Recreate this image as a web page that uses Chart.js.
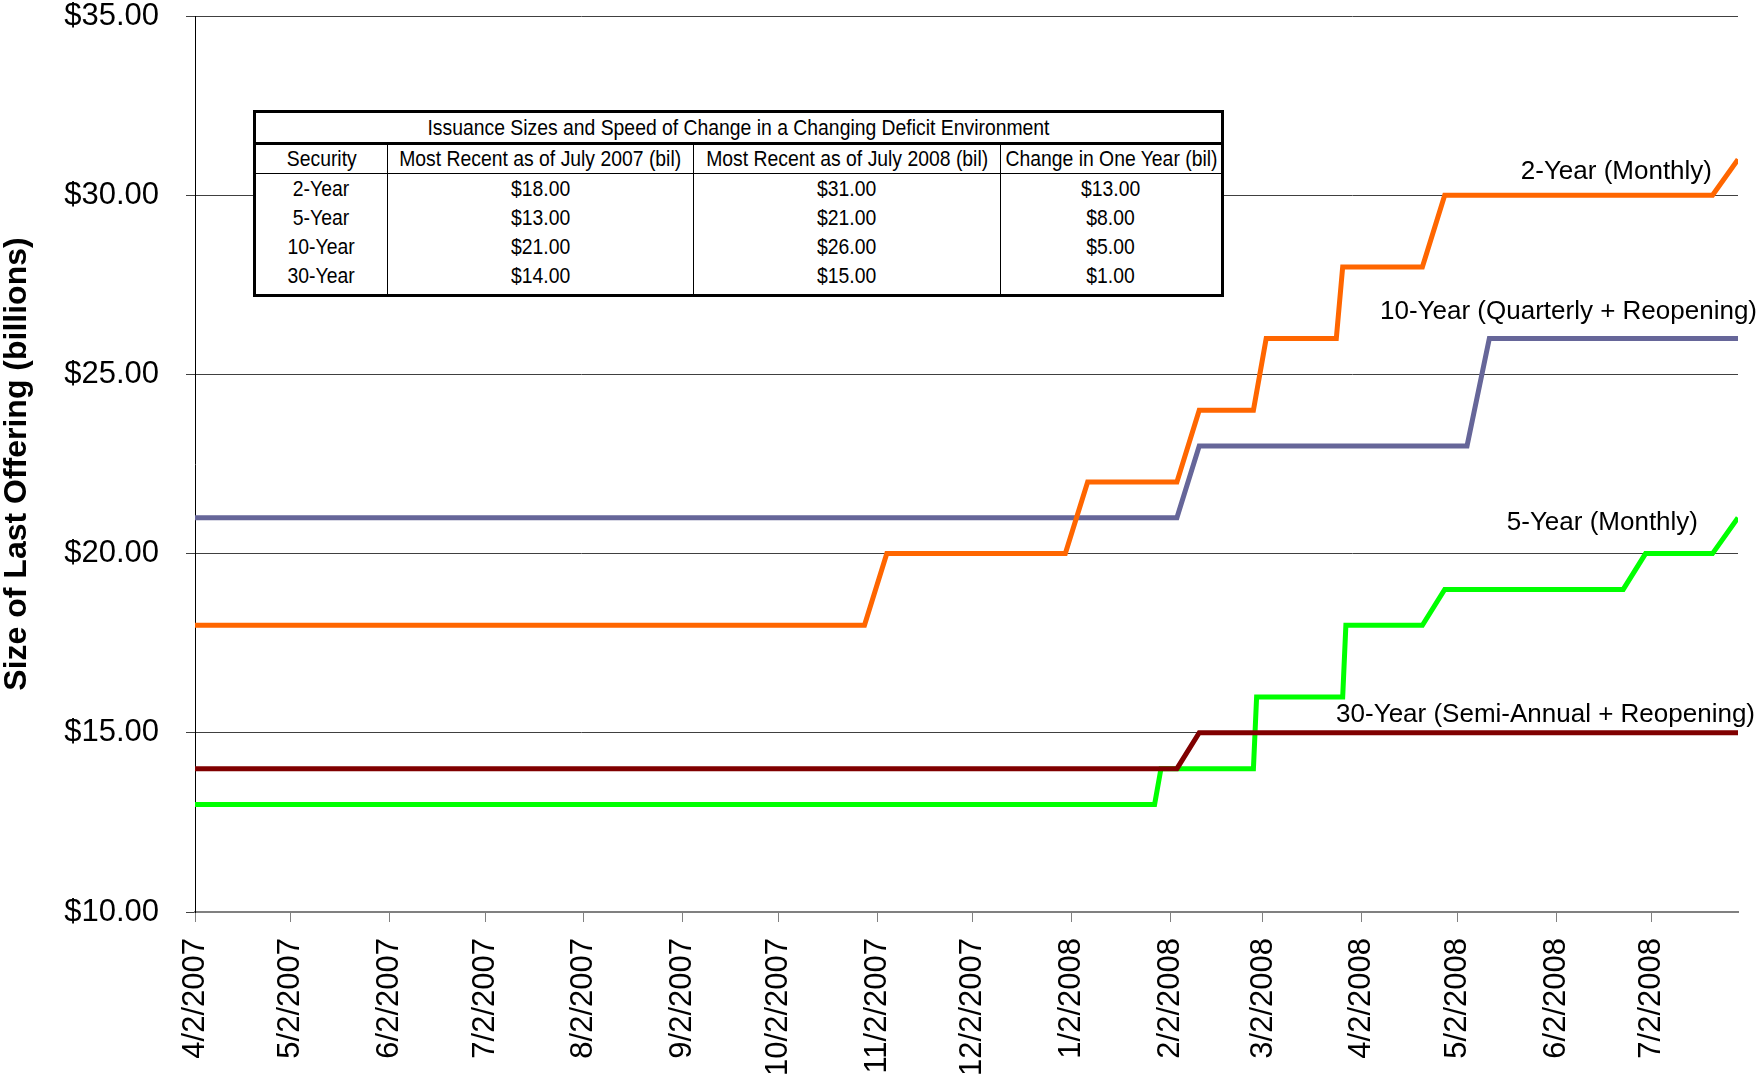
<!DOCTYPE html>
<html>
<head>
<meta charset="utf-8">
<title>Issuance Sizes and Speed of Change</title>
<script src="https://cdn.jsdelivr.net/npm/chart.js@4.4.1/dist/chart.umd.min.js"></script>
<style>
  body { margin: 0; background: #fff; }
  #wrap { position: relative; width: 1758px; height: 1074px; overflow: hidden; }
  #summary {
    position: absolute; left: 253px; top: 110px; width: 968px;
    border-collapse: collapse; table-layout: fixed;
    border: 3px solid #000; background: #fff; color: #000;
    font-family: "Liberation Sans", Arial, sans-serif; font-size: 22px;
  }
  #summary td { padding: 0; text-align: center; white-space: nowrap; overflow: hidden; }
  #summary td span { display: inline-block; margin: 0 -60px; transform: scaleX(0.88); transform-origin: center; }
  #summary tr.title td { height: 29px; border-bottom: 3px solid #000; }
  #summary tr.head td { height: 28px; border-bottom: 1px solid #000; }
  #summary tr.row td { height: 29px; }
  #summary tr.last td { height: 31px; vertical-align: top; padding-top: 2px; }
  #summary td + td { border-left: 1px solid #000; }
</style>
</head>
<body>
<div id="wrap">
  <canvas id="issuance" width="1758" height="1074"></canvas>
  <table id="summary">
    <colgroup><col style="width:133px"><col style="width:306px"><col style="width:307px"><col style="width:222px"></colgroup>
    <tbody id="summaryBody"></tbody>
  </table>
</div>
<script>
// x axis ticks
const tickLabels = ['4/2/2007', '5/2/2007', '6/2/2007', '7/2/2007', '8/2/2007', '9/2/2007',
  '10/2/2007', '11/2/2007', '12/2/2007', '1/2/2008', '2/2/2008', '3/2/2008',
  '4/2/2008', '5/2/2008', '6/2/2008', '7/2/2008'];
const startDate = '4/2/2007';
const endDate = '7/29/2008';

// series: size of last offering ($bil) at each date
const twoYearDates = ['4/2/2007', '10/29/2007', '11/5/2007', '12/31/2007', '1/7/2008', '2/4/2008', '2/11/2008',
  '2/28/2008', '3/3/2008', '3/25/2008', '3/27/2008', '4/21/2008', '4/28/2008', '7/21/2008', '7/29/2008'];
const twoYearValues = [18, 18, 20, 20, 22, 22, 24, 24, 26, 26, 28, 28, 30, 30, 31];

const fiveYearDates = ['4/2/2007', '1/28/2008', '1/30/2008', '2/28/2008', '2/29/2008', '3/27/2008', '3/28/2008',
  '4/21/2008', '4/28/2008', '6/23/2008', '6/30/2008', '7/21/2008', '7/29/2008'];
const fiveYearValues = [13, 13, 14, 14, 16, 16, 18, 18, 19, 19, 20, 20, 21];

const tenYearDates = ['4/2/2007', '2/4/2008', '2/11/2008', '5/5/2008', '5/12/2008', '7/29/2008'];
const tenYearValues = [21, 21, 23, 23, 26, 26];

const thirtyYearDates = ['4/2/2007', '2/4/2008', '2/11/2008', '7/29/2008'];
const thirtyYearValues = [14, 14, 15, 15];

// summary table
const tableTitle = 'Issuance Sizes and Speed of Change in a Changing Deficit Environment';
const tableHeaders = ['Security', 'Most Recent as of July 2007 (bil)', 'Most Recent as of July 2008 (bil)', 'Change in One Year (bil)'];
const securities = ['2-Year', '5-Year', '10-Year', '30-Year'];
const july2007 = [18, 13, 21, 14];
const july2008 = [31, 21, 26, 15];
const oneYearChange = [13, 8, 5, 1];

function dayOf(s) {
  const [m, d, y] = s.split('/').map(Number);
  const [m0, d0, y0] = startDate.split('/').map(Number);
  return Math.round((Date.UTC(y, m - 1, d) - Date.UTC(y0, m0 - 1, d0)) / 86400000);
}
const money = v => '$' + v.toFixed(2);
const toPoints = (dates, values) => dates.map((d, i) => ({ x: dayOf(d), y: values[i] }));
const tickDays = tickLabels.map(dayOf);

// build the table
const cell = t => '<td><span>' + t + '</span></td>';
let html = '<tr class="title"><td colspan="4"><span>' + tableTitle + '</span></td></tr>';
html += '<tr class="head">' + tableHeaders.map(cell).join('') + '</tr>';
securities.forEach((s, i) => {
  const cls = i === securities.length - 1 ? 'row last' : 'row';
  html += '<tr class="' + cls + '">' + cell(s) + cell(money(july2007[i])) + cell(money(july2008[i])) + cell(money(oneYearChange[i])) + '</tr>';
});
document.getElementById('summaryBody').innerHTML = html;

const seriesLabels = [
  { text: '2-Year (Monthly)', at: 30.65, dx: -26 },
  { text: '10-Year (Quarterly + Reopening)', at: 26.74, dx: 19 },
  { text: '5-Year (Monthly)', at: 20.85, dx: -40 },
  { text: '30-Year (Semi-Annual + Reopening)', at: 15.5, dx: 17 }
];

const labelPlugin = {
  id: 'seriesLabels',
  afterDatasetsDraw(chart) {
    const ctx = chart.ctx;
    const y = chart.scales.y;
    ctx.save();
    ctx.font = '26px "Liberation Sans", Arial, sans-serif';
    ctx.fillStyle = '#000';
    ctx.textAlign = 'right';
    ctx.textBaseline = 'middle';
    seriesLabels.forEach(l => {
      ctx.fillText(l.text, chart.chartArea.right + l.dx, y.getPixelForValue(l.at));
    });
    ctx.restore();
  }
};

const lineStyle = { borderWidth: 5, pointRadius: 0, tension: 0, fill: false };

new Chart(document.getElementById('issuance'), {
  type: 'line',
  data: {
    datasets: [
      { label: '2-Year', data: toPoints(twoYearDates, twoYearValues), borderColor: '#FF6600', ...lineStyle },
      { label: '30-Year', data: toPoints(thirtyYearDates, thirtyYearValues), borderColor: '#800000', ...lineStyle },
      { label: '10-Year', data: toPoints(tenYearDates, tenYearValues), borderColor: '#666699', ...lineStyle },
      { label: '5-Year', data: toPoints(fiveYearDates, fiveYearValues), borderColor: '#00FF00', ...lineStyle }
    ]
  },
  options: {
    responsive: false,
    animation: false,
    layout: { padding: { top: 16, right: 20, left: 0, bottom: 0 } },
    plugins: { legend: { display: false }, tooltip: { enabled: false } },
    scales: {
      x: {
        type: 'linear',
        min: 0,
        max: dayOf(endDate),
        afterBuildTicks: scale => { scale.ticks = tickDays.map(v => ({ value: v })); },
        afterFit: scale => { scale.height = 162; scale.paddingLeft = 0; scale.paddingRight = 0; },
        grid: { drawOnChartArea: false, drawTicks: true, tickLength: 10, color: '#808080' },
        border: { color: '#808080', width: 2 },
        ticks: {
          autoSkip: false, minRotation: 90, maxRotation: 90, padding: 16, color: '#000',
          font: { family: '"Liberation Sans", Arial, sans-serif', size: 31, lineHeight: 1 },
          callback: (v, i) => tickLabels[i]
        }
      },
      y: {
        min: 10,
        max: 35,
        afterFit: scale => { scale.width = 195; scale.paddingTop = 0; scale.paddingBottom = 0; },
        grid: { color: '#404040', lineWidth: 1, tickLength: 9 },
        border: { color: '#000', width: 1 },
        ticks: {
          stepSize: 5, padding: 27, color: '#000',
          font: { family: '"Liberation Sans", Arial, sans-serif', size: 31, lineHeight: 1 },
          callback: v => money(v)
        },
        title: {
          display: true,
          text: 'Size of Last Offering (billions)',
          color: '#000',
          padding: 0,
          font: { family: '"Liberation Sans", Arial, sans-serif', size: 32, weight: 'bold', lineHeight: 1.1 }
        }
      }
    }
  },
  plugins: [labelPlugin]
});
</script>
</body>
</html>
